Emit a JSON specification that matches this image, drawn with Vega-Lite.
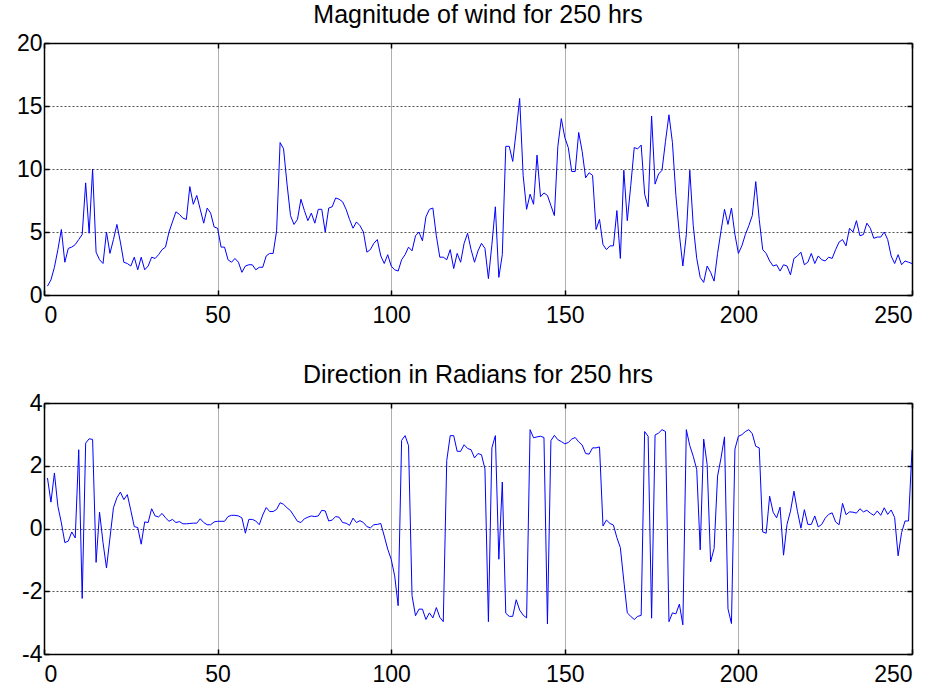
{
  "$schema": "https://vega.github.io/schema/vega-lite/v6.json",
  "background": "white",
  "padding": {"left": 16, "top": 3, "right": 20, "bottom": 0},
  "config": {
    "font": "Liberation Sans",
    "view": {"stroke": null},
    "axis": {"domainColor": "black", "domainWidth": 1.5, "tickColor": "black", "tickWidth": 1.5, "tickSize": -5, "labelFont": "Liberation Sans", "labelFontSize": 23, "labelColor": "black", "title": null, "labelExpr": "'' + datum.value"},
    "axisX": {"gridColor": "#b0b0b0", "gridWidth": 1, "labelPadding": 14, "labelAngle": 0},
    "axisY": {"gridColor": "#555555", "gridDash": [2, 2], "gridWidth": 1, "labelPadding": 7},
    "title": {"font": "Liberation Sans", "fontSize": 25, "fontWeight": "normal", "color": "black", "frame": "group", "anchor": "middle", "offset": 0},
    "concat": {"spacing": 36}
  },
  "data": {"values": [
{"t":1,"mag":0.7,"dir":1.61},{"t":2,"mag":1.2,"dir":0.84},{"t":3,"mag":2.2,"dir":1.77},{"t":4,"mag":3.6,"dir":0.71},{"t":5,"mag":5.2,"dir":0.18},
{"t":6,"mag":2.6,"dir":-0.45},{"t":7,"mag":3.7,"dir":-0.4},{"t":8,"mag":3.8,"dir":-0.11},{"t":9,"mag":4.0,"dir":-0.3},{"t":10,"mag":4.4,"dir":2.51},
{"t":11,"mag":4.8,"dir":-2.23},{"t":12,"mag":8.9,"dir":2.72},{"t":13,"mag":4.9,"dir":2.86},{"t":14,"mag":10.0,"dir":2.84},{"t":15,"mag":3.4,"dir":-1.08},
{"t":16,"mag":2.8,"dir":0.52},{"t":17,"mag":2.5,"dir":-0.45},{"t":18,"mag":5.0,"dir":-1.26},{"t":19,"mag":3.3,"dir":-0.3},{"t":20,"mag":4.4,"dir":0.66},
{"t":21,"mag":5.6,"dir":0.98},{"t":22,"mag":4.2,"dir":1.16},{"t":23,"mag":2.6,"dir":0.92},{"t":24,"mag":2.5,"dir":1.08},{"t":25,"mag":2.3,"dir":0.58},
{"t":26,"mag":3.0,"dir":0.06},{"t":27,"mag":2.0,"dir":0.03},{"t":28,"mag":3.0,"dir":-0.5},{"t":29,"mag":2.0,"dir":0.21},{"t":30,"mag":2.3,"dir":0.19},
{"t":31,"mag":3.0,"dir":0.63},{"t":32,"mag":2.9,"dir":0.4},{"t":33,"mag":3.2,"dir":0.37},{"t":34,"mag":3.6,"dir":0.48},{"t":35,"mag":3.8,"dir":0.34},
{"t":36,"mag":5.0,"dir":0.23},{"t":37,"mag":5.8,"dir":0.29},{"t":38,"mag":6.6,"dir":0.19},{"t":39,"mag":6.4,"dir":0.22},{"t":40,"mag":6.1,"dir":0.15},
{"t":41,"mag":6.0,"dir":0.15},{"t":42,"mag":8.6,"dir":0.16},{"t":43,"mag":7.2,"dir":0.17},{"t":44,"mag":7.9,"dir":0.17},{"t":45,"mag":6.8,"dir":0.31},
{"t":46,"mag":5.7,"dir":0.19},{"t":47,"mag":6.9,"dir":0.12},{"t":48,"mag":6.5,"dir":0.12},{"t":49,"mag":5.4,"dir":0.21},{"t":50,"mag":5.3,"dir":0.23},
{"t":51,"mag":3.8,"dir":0.23},{"t":52,"mag":3.8,"dir":0.23},{"t":53,"mag":2.8,"dir":0.38},{"t":54,"mag":2.6,"dir":0.42},{"t":55,"mag":2.9,"dir":0.42},
{"t":56,"mag":2.6,"dir":0.4},{"t":57,"mag":1.8,"dir":0.34},{"t":58,"mag":2.3,"dir":-0.15},{"t":59,"mag":2.4,"dir":0.29},{"t":60,"mag":2.4,"dir":0.29},
{"t":61,"mag":2.0,"dir":0.24},{"t":62,"mag":2.2,"dir":0.12},{"t":63,"mag":2.2,"dir":0.43},{"t":64,"mag":3.1,"dir":0.67},{"t":65,"mag":3.3,"dir":0.54},
{"t":66,"mag":3.3,"dir":0.54},{"t":67,"mag":5.1,"dir":0.61},{"t":68,"mag":12.1,"dir":0.82},{"t":69,"mag":11.6,"dir":0.77},{"t":70,"mag":8.8,"dir":0.66},
{"t":71,"mag":6.3,"dir":0.57},{"t":72,"mag":5.6,"dir":0.4},{"t":73,"mag":6.0,"dir":0.23},{"t":74,"mag":7.6,"dir":0.19},{"t":75,"mag":6.7,"dir":0.31},
{"t":76,"mag":5.9,"dir":0.36},{"t":77,"mag":6.5,"dir":0.4},{"t":78,"mag":5.7,"dir":0.38},{"t":79,"mag":6.8,"dir":0.4},{"t":80,"mag":6.8,"dir":0.58},
{"t":81,"mag":5.0,"dir":0.56},{"t":82,"mag":6.9,"dir":0.24},{"t":83,"mag":7.0,"dir":0.27},{"t":84,"mag":7.7,"dir":0.38},{"t":85,"mag":7.6,"dir":0.36},
{"t":86,"mag":7.4,"dir":0.19},{"t":87,"mag":6.8,"dir":0.17},{"t":88,"mag":6.0,"dir":0.1},{"t":89,"mag":5.3,"dir":0.33},{"t":90,"mag":5.8,"dir":0.19},
{"t":91,"mag":5.5,"dir":0.25},{"t":92,"mag":5.0,"dir":0.19},{"t":93,"mag":3.4,"dir":0.06},{"t":94,"mag":3.6,"dir":0.02},{"t":95,"mag":4.1,"dir":0.12},
{"t":96,"mag":4.4,"dir":0.13},{"t":97,"mag":3.1,"dir":0.16},{"t":98,"mag":2.5,"dir":-0.24},{"t":99,"mag":3.2,"dir":-0.66},{"t":100,"mag":2.3,"dir":-0.98},
{"t":101,"mag":2.0,"dir":-1.51},{"t":102,"mag":1.9,"dir":-2.46},{"t":103,"mag":2.8,"dir":2.81},{"t":104,"mag":3.2,"dir":2.96},{"t":105,"mag":3.8,"dir":2.64},
{"t":106,"mag":3.5,"dir":-2.14},{"t":107,"mag":4.7,"dir":-2.78},{"t":108,"mag":5.0,"dir":-2.57},{"t":109,"mag":4.3,"dir":-2.57},{"t":110,"mag":6.2,"dir":-2.9},
{"t":111,"mag":6.8,"dir":-2.69},{"t":112,"mag":6.9,"dir":-2.85},{"t":113,"mag":4.7,"dir":-2.52},{"t":114,"mag":3.0,"dir":-2.83},{"t":115,"mag":3.0,"dir":-2.97},
{"t":116,"mag":2.8,"dir":2.17},{"t":117,"mag":3.6,"dir":2.96},{"t":118,"mag":2.1,"dir":2.96},{"t":119,"mag":3.3,"dir":2.46},{"t":120,"mag":2.6,"dir":2.46},
{"t":121,"mag":4.1,"dir":2.67},{"t":122,"mag":4.9,"dir":2.55},{"t":123,"mag":3.6,"dir":2.51},{"t":124,"mag":2.6,"dir":2.25},{"t":125,"mag":3.5,"dir":2.39},
{"t":126,"mag":4.1,"dir":2.35},{"t":127,"mag":3.7,"dir":1.9},{"t":128,"mag":1.3,"dir":-2.97},{"t":129,"mag":4.0,"dir":2.57},{"t":130,"mag":7.0,"dir":2.96},
{"t":131,"mag":1.4,"dir":-0.98},{"t":132,"mag":3.2,"dir":1.48},{"t":133,"mag":11.8,"dir":-2.7},{"t":134,"mag":11.8,"dir":-2.8},{"t":135,"mag":10.6,"dir":-2.8},
{"t":136,"mag":13.0,"dir":-2.27},{"t":137,"mag":15.6,"dir":-2.6},{"t":138,"mag":9.5,"dir":-2.76},{"t":139,"mag":6.8,"dir":-2.85},{"t":140,"mag":8.0,"dir":3.15},
{"t":141,"mag":7.2,"dir":2.89},{"t":142,"mag":11.1,"dir":2.92},{"t":143,"mag":7.8,"dir":2.94},{"t":144,"mag":8.1,"dir":2.9},{"t":145,"mag":7.9,"dir":-3.04},
{"t":146,"mag":7.1,"dir":2.8},{"t":147,"mag":6.3,"dir":2.97},{"t":148,"mag":11.8,"dir":2.83},{"t":149,"mag":14.0,"dir":2.77},{"t":150,"mag":12.5,"dir":2.7},
{"t":151,"mag":11.7,"dir":2.74},{"t":152,"mag":9.8,"dir":2.85},{"t":153,"mag":9.8,"dir":2.9},{"t":154,"mag":12.9,"dir":2.76},{"t":155,"mag":11.4,"dir":2.66},
{"t":156,"mag":9.3,"dir":2.39},{"t":157,"mag":9.7,"dir":2.37},{"t":158,"mag":9.5,"dir":2.57},{"t":159,"mag":5.2,"dir":2.57},{"t":160,"mag":6.0,"dir":2.6},
{"t":161,"mag":4.0,"dir":0.08},{"t":162,"mag":3.6,"dir":0.27},{"t":163,"mag":3.9,"dir":0.16},{"t":164,"mag":3.9,"dir":0.11},{"t":165,"mag":6.7,"dir":-0.29},
{"t":166,"mag":2.9,"dir":-0.61},{"t":167,"mag":9.9,"dir":-1.67},{"t":168,"mag":5.9,"dir":-2.69},{"t":169,"mag":8.7,"dir":-2.8},{"t":170,"mag":11.7,"dir":-2.9},
{"t":171,"mag":11.6,"dir":-2.8},{"t":172,"mag":11.9,"dir":-2.77},{"t":173,"mag":8.0,"dir":3.09},{"t":174,"mag":7.0,"dir":2.94},{"t":175,"mag":14.2,"dir":-2.86},
{"t":176,"mag":8.8,"dir":2.98},{"t":177,"mag":9.6,"dir":3.04},{"t":178,"mag":9.9,"dir":3.15},{"t":179,"mag":12.2,"dir":3.09},{"t":180,"mag":14.3,"dir":-2.97},
{"t":181,"mag":12.1,"dir":-2.69},{"t":182,"mag":7.9,"dir":-2.72},{"t":183,"mag":4.8,"dir":-2.41},{"t":184,"mag":2.3,"dir":-3.07},{"t":185,"mag":4.8,"dir":3.15},
{"t":186,"mag":9.9,"dir":2.64},{"t":187,"mag":5.5,"dir":2.3},{"t":188,"mag":2.9,"dir":1.88},{"t":189,"mag":1.4,"dir":-0.68},{"t":190,"mag":1.0,"dir":2.85},
{"t":191,"mag":2.3,"dir":2.04},{"t":192,"mag":1.8,"dir":-1.06},{"t":193,"mag":1.1,"dir":-0.64},{"t":194,"mag":3.3,"dir":1.67},{"t":195,"mag":5.1,"dir":2.25},
{"t":196,"mag":6.8,"dir":2.92},{"t":197,"mag":5.6,"dir":-2.56},{"t":198,"mag":6.9,"dir":-3.03},{"t":199,"mag":4.8,"dir":2.53},{"t":200,"mag":3.3,"dir":2.94},
{"t":201,"mag":3.9,"dir":2.99},{"t":202,"mag":4.8,"dir":3.09},{"t":203,"mag":5.5,"dir":3.15},{"t":204,"mag":6.3,"dir":3.02},{"t":205,"mag":9.0,"dir":2.62},
{"t":206,"mag":6.0,"dir":2.57},{"t":207,"mag":3.6,"dir":-0.11},{"t":208,"mag":3.3,"dir":-0.15},{"t":209,"mag":2.7,"dir":1.03},{"t":210,"mag":2.3,"dir":0.52},
{"t":211,"mag":2.4,"dir":0.34},{"t":212,"mag":1.9,"dir":0.68},{"t":213,"mag":2.4,"dir":-0.85},{"t":214,"mag":2.3,"dir":0.13},{"t":215,"mag":1.6,"dir":0.55},
{"t":216,"mag":2.9,"dir":1.19},{"t":217,"mag":3.1,"dir":0.55},{"t":218,"mag":3.4,"dir":0.01},{"t":219,"mag":2.4,"dir":0.6},{"t":220,"mag":2.6,"dir":0.13},
{"t":221,"mag":3.3,"dir":0.13},{"t":222,"mag":2.5,"dir":0.4},{"t":223,"mag":3.1,"dir":0.05},{"t":224,"mag":2.8,"dir":0.13},{"t":225,"mag":2.7,"dir":0.33},
{"t":226,"mag":3.0,"dir":0.45},{"t":227,"mag":2.9,"dir":0.5},{"t":228,"mag":3.6,"dir":0.21},{"t":229,"mag":4.2,"dir":0.12},{"t":230,"mag":4.4,"dir":0.8},
{"t":231,"mag":3.9,"dir":0.44},{"t":232,"mag":5.3,"dir":0.53},{"t":233,"mag":5.0,"dir":0.52},{"t":234,"mag":5.9,"dir":0.49},{"t":235,"mag":4.7,"dir":0.63},
{"t":236,"mag":4.8,"dir":0.53},{"t":237,"mag":5.7,"dir":0.58},{"t":238,"mag":5.3,"dir":0.49},{"t":239,"mag":4.5,"dir":0.42},{"t":240,"mag":4.6,"dir":0.56},
{"t":241,"mag":4.6,"dir":0.42},{"t":242,"mag":5.0,"dir":0.66},{"t":243,"mag":4.4,"dir":0.45},{"t":244,"mag":3.1,"dir":0.59},{"t":245,"mag":2.5,"dir":0.35},
{"t":246,"mag":3.2,"dir":-0.87},{"t":247,"mag":2.4,"dir":-0.13},{"t":248,"mag":2.7,"dir":0.24},{"t":249,"mag":2.6,"dir":0.24},{"t":250,"mag":2.5,"dir":2.51}
  ]},
  "vconcat": [
    {
      "width": 868, "height": 252,
      "title": "Magnitude of wind for 250 hrs",
      "resolve": {"axis": {"x": "independent", "y": "independent"}},
      "layer": [
        {
          "mark": {"type": "line", "color": "#0000ff", "strokeWidth": 1, "clip": true},
          "encoding": {
            "x": {"field": "t", "type": "quantitative", "scale": {"domain": [0, 250], "nice": false}, "axis": {"values": [0, 50, 100, 150, 200, 250], "grid": true}},
            "y": {"field": "mag", "type": "quantitative", "scale": {"domain": [0, 20], "nice": false, "zero": false}, "axis": {"values": [0, 5, 10, 15, 20], "grid": true}}
          }
        },
        {
          "mark": {"type": "line", "strokeOpacity": 0},
          "encoding": {
            "x": {"field": "t", "type": "quantitative", "axis": {"orient": "top", "values": [0, 50, 100, 150, 200, 250], "labels": false, "grid": false}},
            "y": {"field": "mag", "type": "quantitative", "axis": {"orient": "right", "values": [0, 5, 10, 15, 20], "labels": false, "grid": false}}
          }
        }
      ]
    },
    {
      "width": 868, "height": 251,
      "title": "Direction in Radians for 250 hrs",
      "resolve": {"axis": {"x": "independent", "y": "independent"}},
      "layer": [
        {
          "mark": {"type": "line", "color": "#0000ff", "strokeWidth": 1, "clip": true},
          "encoding": {
            "x": {"field": "t", "type": "quantitative", "scale": {"domain": [0, 250], "nice": false}, "axis": {"values": [0, 50, 100, 150, 200, 250], "grid": true}},
            "y": {"field": "dir", "type": "quantitative", "scale": {"domain": [-4, 4], "nice": false, "zero": false}, "axis": {"values": [-4, -2, 0, 2, 4], "grid": true}}
          }
        },
        {
          "mark": {"type": "line", "strokeOpacity": 0},
          "encoding": {
            "x": {"field": "t", "type": "quantitative", "axis": {"orient": "top", "values": [0, 50, 100, 150, 200, 250], "labels": false, "grid": false}},
            "y": {"field": "dir", "type": "quantitative", "axis": {"orient": "right", "values": [-4, -2, 0, 2, 4], "labels": false, "grid": false}}
          }
        }
      ]
    }
  ]
}
